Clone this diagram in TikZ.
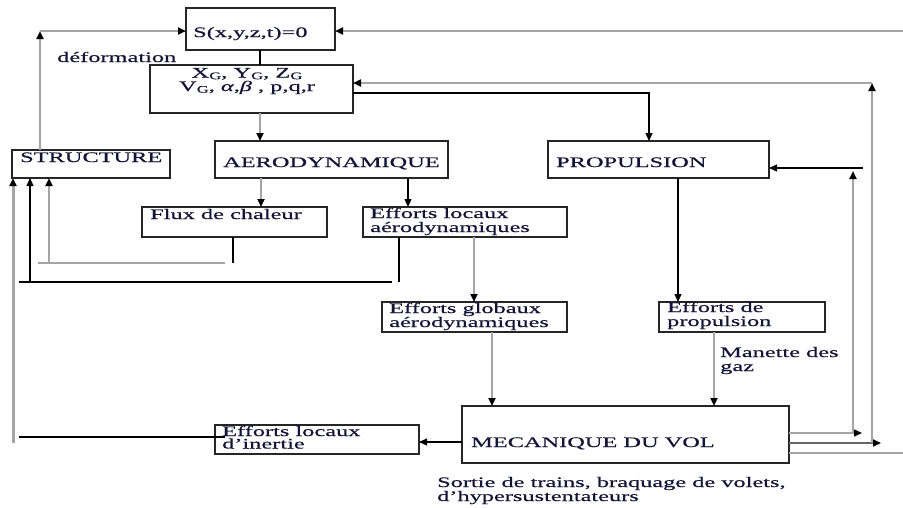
\documentclass[tikz,border=0pt]{standalone}
\usepackage{fontspec}
\setmainfont{Liberation Serif}[FakeStretch=1.68,FakeBold=0.5]
\usetikzlibrary{arrows.meta}
\definecolor{lgray}{RGB}{165,165,165}
\definecolor{mgray}{RGB}{100,100,100}
\definecolor{txt}{RGB}{20,20,55}
\newcommand{\subG}{\raisebox{-0.25ex}{\fontsize{10}{10}\selectfont G}}
\begin{document}
\begin{tikzpicture}[x=1pt,y=-1pt,
 box/.style={draw=black!85, line width=1.3pt, inner sep=0pt, outer sep=0pt, anchor=north west},
 lbl/.style={text=txt, font=\fontsize{14.5}{14}\selectfont, inner sep=0pt, anchor=base west, align=left},
 gl/.style={draw=lgray, line width=2.6pt},
 tl/.style={draw=lgray, line width=1.4pt},
 ml/.style={draw=mgray, line width=1.9pt},
 bl/.style={draw=black, line width=1.1pt},
 arr/.style={-{Triangle[length=8pt,width=7pt,color=black]}}]
\fill[white] (0,0) rectangle (903,507);
\useasboundingbox (0,0) rectangle (903,507);
% boxes (multi-line labels are placed by the baseline of their last line)
\node[box, minimum width=149pt, minimum height=42pt] (S) at (186,8) {};
\node[lbl] (tS) at (193,37) {S(x,y,z,t)=0};
\node[box, minimum width=203pt, minimum height=48pt] (XG) at (150,65) {};
\node[lbl, anchor=base, align=center, font=\fontsize{14.5}{13.5}\selectfont] (tXG) at (247,91) {X\subG, Y\subG, Z\subG\\V\subG, \textit{α,β} , p,q,r};
\node[box, minimum width=158pt, minimum height=28pt] (STR) at (12,150) {};
\node[lbl] (tSTR) at (20,162) {STRUCTURE};
\node[box, minimum width=233pt, minimum height=37pt] (AER) at (215,141) {};
\node[lbl] (tAER) at (223,167) {AERODYNAMIQUE};
\node[box, minimum width=221pt, minimum height=37pt] (PRO) at (548,141) {};
\node[lbl] (tPRO) at (556,167) {PROPULSION};
\node[box, minimum width=185pt, minimum height=30pt] (FLX) at (142,207) {};
\node[lbl] (tFLX) at (150,219) {Flux de chaleur};
\node[box, minimum width=204pt, minimum height=30pt] (ELA) at (363,207) {};
\node[lbl] (tELA) at (370,232) {Efforts locaux\\aérodynamiques};
\node[box, minimum width=185pt, minimum height=30pt] (EGA) at (382,302) {};
\node[lbl] (tEGA) at (389,327) {Efforts globaux\\aérodynamiques};
\node[box, minimum width=166pt, minimum height=30pt] (EPR) at (659,302) {};
\node[lbl] (tEPR) at (667,326) {Efforts de\\propulsion};
\node[box, minimum width=327pt, minimum height=57pt] (MEC) at (462,406) {};
\node[lbl] (tMEC) at (471,447) {MECANIQUE DU VOL};
\node[box, minimum width=204pt, minimum height=29pt] (EIN) at (215,425) {};
\node[lbl, font=\fontsize{14.5}{12.5}\selectfont] (tEIN) at (222,448.5) {Efforts locaux\\d’inertie};
\node[lbl] (tdef) at (57,62) {déformation};
\node[lbl] (tman) at (720,371) {Manette des\\gaz};
\node[lbl] (tsor) at (437,501) {Sortie de trains, braquage de volets,\\d’hypersustentateurs};
% connectors
\coordinate (cSW) at (40,31);
\draw[gl,arr] ([xshift=28pt]STR.north west) -- (cSW);
\draw[gl,arr] (cSW) -- (cSW -| S.west);
\coordinate (cSE) at (903,31);
\draw[gl,arr] (cSE) -- (cSE -| S.east);
\draw[bl] ([xshift=74pt]S.south west) -- ([xshift=110pt]XG.north west);
\draw[gl,arr] ([xshift=110pt]XG.south west) -- ([xshift=45pt]AER.north west);
\draw[bl,arr] ([yshift=-28pt]XG.north east) -| ([xshift=101pt]PRO.north west);
\coordinate (r1) at (853,433); \coordinate (r1e) at (862,433); \coordinate (r1t) at (853,171);
\coordinate (r2) at (872,443); \coordinate (r2e) at (881,443); \coordinate (r2t) at (872,83);
\coordinate (r3) at (903,453);
\coordinate (p1) at (863,168);
\draw[tl,arr] (r1e -| MEC.east) -- (r1e);
\draw[gl,arr] (r1) -- (r1t);
\draw[bl,arr] (p1) -- (p1 -| PRO.east);
\draw[ml,arr] (r2e -| MEC.east) -- (r2e);
\draw[gl,arr] (r2) -- (r2t);
\draw[gl,arr] (r2t) -- (r2t -| XG.east);
\draw[tl] (r3 -| MEC.east) -- (r3);
\draw[gl,arr] ([xshift=46pt]AER.south west) -- ([xshift=119pt]FLX.north west);
\draw[bl,arr] ([xshift=193pt]AER.south west) -- ([xshift=45pt]ELA.north west);
\coordinate (f1) at (225,263); \coordinate (f2) at (38,263); \coordinate (f3) at (49,263);
\draw[bl] ([xshift=91pt]FLX.south west) -- ++(0,26);
\draw[gl] (f1) -- (f2);
\draw[gl,arr] (f3) -- (f3 |- STR.south);
\coordinate (h1) at (392,282); \coordinate (h2) at (19,282); \coordinate (h3) at (30,282);
\draw[bl] ([xshift=36pt]ELA.south west) -- ++(0,45);
\draw[bl] (h1) -- (h2);
\draw[bl,arr] (h3) -- (h3 |- STR.south);
\coordinate (g1) at (13,443);
\draw[gl, line width=3pt, arr] (g1) -- (g1 |- STR.south);
\coordinate (e1) at (19,437); \coordinate (e2) at (225,437);
\draw[bl] (e2) -- (e1);
\draw[bl,arr] ([yshift=-36pt]MEC.north west) coordinate (m1) -- (m1 -| EIN.east);
\draw[gl,arr] ([xshift=111pt]ELA.south west) -- ([xshift=92pt]EGA.north west);
\draw[bl,arr] ([xshift=130pt]PRO.south west) -- ([xshift=19pt]EPR.north west);
\draw[gl,arr] ([xshift=110pt]EGA.south west) -- ([xshift=30pt]MEC.north west);
\draw[gl,arr] ([xshift=55pt]EPR.south west) -- ([xshift=252pt]MEC.north west);
\end{tikzpicture}
\end{document}
